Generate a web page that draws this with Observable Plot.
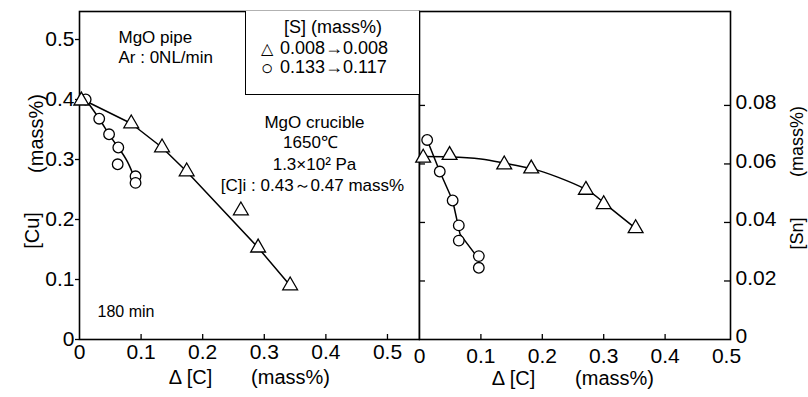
<!DOCTYPE html>
<html><head><meta charset="utf-8">
<script src="https://cdn.jsdelivr.net/npm/d3@7"></script>
<script src="https://cdn.jsdelivr.net/npm/@observablehq/plot@0.6"></script>
<style>
body{margin:0;background:#fff;}
#wrap{position:relative;width:808px;height:397px;overflow:hidden;background:#fff;font-family:"Liberation Sans",Arial,sans-serif;color:#000;}
#wrap svg{position:absolute;left:0;top:0;}
#legend{position:absolute;left:245px;top:11px;width:173px;height:83px;border:1.4px solid #000;border-top:none;background:#fff;z-index:2;}
#legend div{position:absolute;font-size:18px;line-height:18px;height:18px;white-space:nowrap;}
</style></head><body><div id="wrap"><div id="legend"></div></div>
<script>
// ---- data ----
const xTicks = [0, 0.1, 0.2, 0.3, 0.4, 0.5];
const cuTicks = [0, 0.1, 0.2, 0.3, 0.4, 0.5];
const snTicks = [0, 0.02, 0.04, 0.06, 0.08];

// left panel: [Cu] vs Δ[C]
const cuTriangleDC = [0.003, 0.084, 0.134, 0.174, 0.262, 0.290, 0.342];
const cuTriangleCu = [0.398, 0.360, 0.320, 0.280, 0.215, 0.153, 0.090];
const cuCircleDC   = [0.010, 0.032, 0.048, 0.063, 0.062, 0.091, 0.091];
const cuCircleCu   = [0.400, 0.368, 0.342, 0.320, 0.292, 0.272, 0.261];
const cuTriangleFitDC = [0.005, 0.084, 0.134, 0.174, 0.290, 0.342];
const cuTriangleFitCu = [0.400, 0.360, 0.320, 0.280, 0.153, 0.090];
const cuCircleFitDC   = [0.010, 0.032, 0.048, 0.063, 0.078, 0.090];
const cuCircleFitCu   = [0.400, 0.368, 0.342, 0.320, 0.296, 0.267];

// right panel: [Sn] vs Δ[C]
const snTriangleDC = [0.006, 0.049, 0.138, 0.182, 0.271, 0.300, 0.352];
const snTriangleSn = [0.0621, 0.0630, 0.0598, 0.0584, 0.0511, 0.0462, 0.0380];
const snCircleDC   = [0.0125, 0.033, 0.054, 0.064, 0.064, 0.0966, 0.0966];
const snCircleSn   = [0.0682, 0.0574, 0.0475, 0.0390, 0.0338, 0.0285, 0.0245];
const snTriangleFitDC = [0.0, 0.05, 0.10, 0.138, 0.182, 0.225, 0.271, 0.300, 0.352];
const snTriangleFitSn = [0.0625, 0.0624, 0.0617, 0.0603, 0.0584, 0.0555, 0.0513, 0.0468, 0.0380];
const snCircleFitDC   = [0.0125, 0.033, 0.054, 0.066, 0.093];
const snCircleFitSn   = [0.0682, 0.0574, 0.0475, 0.0360, 0.0285];

const legendTitle = "[S] (mass%)";
const legendSymbols = ["△", "○"];
const legendLabels = ["0.008→0.008", "0.133→0.117"];
const notesTopLeft = ["MgO pipe", "Ar : 0NL/min"];
const notesCenter = ["MgO crucible", "1650℃", "1.3×10² Pa", "[C]i : 0.43～0.47 mass%"];
const noteTime = "180 min";
const xLabelParts = ["Δ [C]", "(mass%)"];
const cuLabelParts = ["(mass%)", "[Cu]"];
const snLabelParts = ["(mass%)", "[Sn]"];

// ---- helpers ----
const pts = (xs, ys) => xs.map((x, i) => ({x, y: ys[i]}));
const fmt = d => d === 0 ? "0" : String(d);
const FONT = "Liberation Sans, Arial, sans-serif";
const wrap = document.getElementById("wrap");

// ---- left panel ----
const left = Plot.plot({
  width: 420, height: 397,
  marginLeft: 79, marginRight: 1, marginTop: 11, marginBottom: 58,
  x: {domain: [0, 0.552]},
  y: {domain: [0, 0.5467]},
  style: {background: "transparent", fontFamily: FONT, color: "#000"},
  marks: [
    Plot.axisY({ticks: cuTicks, tickFormat: fmt, tickSize: 4, tickPadding: 1, fontSize: 21, label: null, strokeWidth: 1.3}),
    Plot.axisX({ticks: xTicks, tickFormat: fmt, tickSize: 0, tickPadding: 5, fontSize: 21, label: null}),
    Plot.tickX(xTicks.slice(1), {x: d => d, insetTop: 323, strokeWidth: 1.3}),
    Plot.frame({strokeWidth: 1.6}),
    Plot.line(pts(cuTriangleFitDC, cuTriangleFitCu), {x: "x", y: "y", strokeWidth: 1.5}),
    Plot.line(pts(cuCircleFitDC, cuCircleFitCu), {x: "x", y: "y", strokeWidth: 1.5, curve: "natural"}),
    Plot.dot(pts(cuCircleDC, cuCircleCu), {x: "x", y: "y", r: 5.3, fill: "white", stroke: "black", strokeWidth: 1.3}),
    Plot.dot(pts(cuTriangleDC, cuTriangleCu), {x: "x", y: "y", r: 5.5, symbol: "triangle", fill: "white", stroke: "black", strokeWidth: 1.3}),
    Plot.text([notesTopLeft[0]], {frameAnchor: "top-left", dx: 39, dy: 19, textAnchor: "start", fontSize: 17}),
    Plot.text([notesTopLeft[1]], {frameAnchor: "top-left", dx: 39, dy: 39, textAnchor: "start", fontSize: 17}),
    Plot.text([notesCenter[0]], {frameAnchor: "top-left", dx: 235, dy: 104, textAnchor: "middle", fontSize: 17}),
    Plot.text([notesCenter[1]], {frameAnchor: "top-left", dx: 231, dy: 124, textAnchor: "middle", fontSize: 17}),
    Plot.text([notesCenter[2]], {frameAnchor: "top-left", dx: 235, dy: 146, textAnchor: "middle", fontSize: 17}),
    Plot.text([notesCenter[3]], {frameAnchor: "top-left", dx: 233, dy: 167, textAnchor: "middle", fontSize: 17}),
    Plot.text([noteTime], {frameAnchor: "bottom-left", dx: 18, dy: -23, textAnchor: "start", fontSize: 16}),
    Plot.text([xLabelParts[0]], {frameAnchor: "bottom-left", dx: 111, dy: 44, textAnchor: "middle", fontSize: 20}),
    Plot.text([xLabelParts[1]], {frameAnchor: "bottom-left", dx: 211, dy: 44, textAnchor: "middle", fontSize: 20}),
    Plot.text([cuLabelParts[0]], {frameAnchor: "top-left", dx: -51, dy: 122, rotate: -90, textAnchor: "middle", fontSize: 20}),
    Plot.text([cuLabelParts[1]], {frameAnchor: "top-left", dx: -55, dy: 219, rotate: -90, textAnchor: "middle", fontSize: 20})
  ]
});

// ---- right panel ----
const right = Plot.plot({
  width: 808, height: 397,
  marginLeft: 419, marginRight: 78, marginTop: 11, marginBottom: 58,
  x: {domain: [0, 0.5065]},
  y: {domain: [0, 0.1121]},
  style: {background: "transparent", fontFamily: FONT, color: "#000"},
  marks: [
    Plot.axisY({anchor: "right", ticks: snTicks, tickFormat: fmt, tickSize: 0, tickPadding: 5, dy: -3, fontSize: 21, label: null}),
    Plot.tickY(snTicks.slice(1), {y: d => d, insetLeft: 305, strokeWidth: 1.3}),
    Plot.tickY(snTicks.slice(1), {y: d => d, insetRight: 305, strokeWidth: 1.3}),
    Plot.axisX({ticks: xTicks, tickFormat: fmt, tickSize: 0, tickPadding: 9, fontSize: 21, label: null}),
    Plot.tickX(xTicks.slice(1, -1), {x: d => d, insetTop: 323, strokeWidth: 1.3}),
    Plot.frame({strokeWidth: 1.6}),
    Plot.line(pts(snTriangleFitDC, snTriangleFitSn), {x: "x", y: "y", strokeWidth: 1.5, curve: "natural"}),
    Plot.line(pts(snCircleFitDC, snCircleFitSn), {x: "x", y: "y", strokeWidth: 1.5}),
    Plot.dot(pts(snCircleDC, snCircleSn), {x: "x", y: "y", r: 5.3, fill: "white", stroke: "black", strokeWidth: 1.3}),
    Plot.dot(pts(snTriangleDC, snTriangleSn), {x: "x", y: "y", r: 5.5, symbol: "triangle", fill: "white", stroke: "black", strokeWidth: 1.3}),
    Plot.text([xLabelParts[0]], {frameAnchor: "bottom-left", dx: 94, dy: 45, textAnchor: "middle", fontSize: 20}),
    Plot.text([xLabelParts[1]], {frameAnchor: "bottom-left", dx: 195, dy: 45, textAnchor: "middle", fontSize: 20}),
    Plot.text([snLabelParts[0]], {frameAnchor: "top-right", dx: 60, dy: 130, rotate: -90, textAnchor: "middle", fontSize: 18}),
    Plot.text([snLabelParts[1]], {frameAnchor: "top-right", dx: 60, dy: 222, rotate: -90, textAnchor: "middle", fontSize: 18})
  ]
});

wrap.appendChild(left);
wrap.appendChild(right);

// ---- legend box ----
const lg = document.getElementById("legend");
const addLg = (txt, x, y, anchorMid, size) => {
  const d = document.createElement("div");
  d.textContent = txt;
  d.style.left = x + "px";
  d.style.top = (y - 9) + "px";
  if (size) { d.style.fontSize = size + "px"; d.style.lineHeight = "18px"; }
  if (anchorMid) d.style.transform = "translateX(-50%)";
  lg.appendChild(d);
};
addLg(legendTitle, 87, 16, true);
addLg(legendSymbols[0], 21, 38, true, 16);
addLg(legendSymbols[1], 21, 57, true, 21);
legendLabels.forEach((s, i) => addLg(s, 34, 37 + i * 19, false));
</script>
</body></html>
